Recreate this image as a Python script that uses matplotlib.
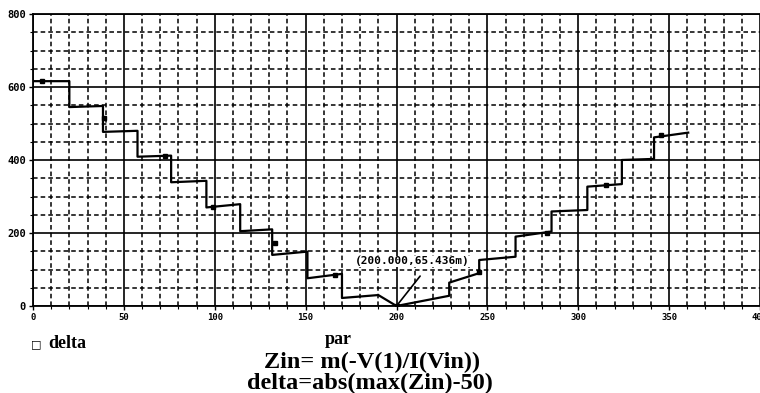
import matplotlib
matplotlib.use("Agg")
import matplotlib.pyplot as plt
from matplotlib.font_manager import FontProperties
import numpy as np

# Data (par vs delta)
par = [0, 20, 20, 38.5, 38.5, 57.5, 57.5, 76, 76, 95.4, 95.4, 114, 114,
       131.6, 131.6, 151, 151, 170, 170, 190, 200, 229, 229, 245.5, 245.5,
       265.5, 265.5, 285.3, 285.3, 305, 305, 324, 324, 341.7, 341.7, 360.5]
delta = [616, 616, 545, 548, 477, 480, 409, 412, 339, 343, 270, 279, 205,
         210, 140, 149, 76, 88, 22, 30, 0.065, 28, 64, 90, 126,
         135, 190, 204, 259, 263, 327, 334, 400, 403, 462, 475]
mark_par = [5, 39, 72.5, 99, 133, 166, 200, 245.5, 283, 315, 345.8]
mark_delta = [616, 515, 411, 271, 172, 84, 0.065, 92, 201, 332, 468]

xticks = [0, 50, 100, 150, 200, 250, 300, 350, 400]
xticklabels = ["0", "50", "100", "150", "200", "250", "300", "350", "400"]
yticks = [0, 200, 400, 600, 800]
yticklabels = ["0", "200", "400", "600", "800"]

fig = plt.figure(figsize=(7.6, 3.93), dpi=100)
ax = fig.add_axes([33/760, 1 - 306/393, 1 - 33/760, (306 - 14)/393])

ax.set_xlim(0, 400)
ax.set_ylim(0, 800)

ax.set_xticks(xticks)
ax.set_xticklabels(xticklabels)
ax.set_yticks(yticks)
ax.set_yticklabels(yticklabels)
ax.set_xticks(np.arange(0, 401, 10), minor=True)
ax.set_yticks(np.arange(0, 801, 50), minor=True)

ax.grid(which="major", color="black", linestyle="-", linewidth=1.2)
ax.grid(which="minor", color="black", linestyle=(0, (3, 2)), linewidth=1.1)
ax.set_axisbelow(True)

for sp in ax.spines.values():
    sp.set_linewidth(1.3)
ax.spines["right"].set_visible(False)

ax.tick_params(which="major", direction="out", length=3, width=1, pad=2)
ax.tick_params(which="minor", direction="out", length=2, width=0.8)
for lab in ax.get_xticklabels():
    lab.set_fontproperties(FontProperties(family="DejaVu Sans Mono", weight="bold", size=6.5))
for lab in ax.get_yticklabels():
    lab.set_fontproperties(FontProperties(family="DejaVu Sans Mono", weight="bold", size=7.5))

ax.plot(par, delta, color="black", linewidth=1.6, zorder=5)
ax.plot(mark_par, mark_delta, linestyle="none", marker="s", markersize=3.5,
        markerfacecolor="black", markeredgecolor="black", zorder=6)

# annotation of the minimum
ax.annotate("", xy=(200, 0.065), xytext=(213, 82),
            arrowprops=dict(arrowstyle="-", color="black", lw=1.2,
                            shrinkA=0, shrinkB=0), zorder=7)
ax.text(208.5, 122, "(200.000,65.436m)", ha="center", va="center",
        fontfamily="DejaVu Sans Mono", fontweight="bold", fontsize=8,
        bbox=dict(boxstyle="square,pad=0.05", fc="white", ec="none"),
        zorder=7)

# legend and labels below
fig.text(36/760, 1 - 344/393, "\u25a1", fontsize=8, ha="center", va="center",
         fontfamily="DejaVu Sans", fontweight="bold")
fig.text(48/760, 1 - 343/393, "delta", fontsize=13, fontweight="bold",
         fontfamily="Liberation Serif", ha="left", va="center")
fig.text(338/760, 1 - 340/393, "par", fontsize=13, fontweight="bold",
         fontfamily="Liberation Serif", ha="center", va="center")
fig.text(372/760, 1 - 362/393, "Zin= m(-V(1)/I(Vin))", fontsize=17.5,
         fontweight="bold", fontfamily="Liberation Serif", ha="center", va="center")
fig.text(370/760, 1 - 383/393, "delta=abs(max(Zin)-50)", fontsize=17.5,
         fontweight="bold", fontfamily="Liberation Serif", ha="center", va="center")

fig.savefig("out.png", dpi=100)
